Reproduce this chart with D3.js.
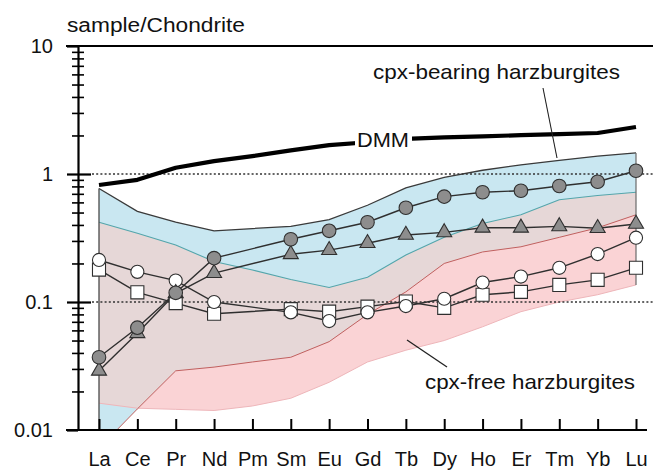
<!DOCTYPE html>
<html>
<head>
<meta charset="utf-8">
<script src="https://cdn.jsdelivr.net/npm/d3@7"></script>
<style>
  html, body { margin: 0; padding: 0; background: #fff; }
  svg { display: block; font-family: "Liberation Sans", Arial, sans-serif; }
</style>
</head>
<body>
<svg id="chart" width="653" height="470"></svg>
<script>
// REE patterns, chondrite normalized
const elements = ["La", "Ce", "Pr", "Nd", "Pm", "Sm", "Eu", "Gd", "Tb", "Dy", "Ho", "Er", "Tm", "Yb", "Lu"]
const yTickValues = [0.01, 0.1, 1, 10]
const yTickLabels = ["0.01", "0.1", "1", "10"]

const dmm = [0.82, 0.9, 1.12, 1.26, 1.38, 1.53, 1.68, 1.77, 1.88, 1.93, 1.97, 2.01, 2.05, 2.09, 2.33]

// field of cpx-bearing harzburgites (blue)
const cpxBearingMax = [0.77, 0.51, 0.42, 0.36, 0.375, 0.39, 0.44, 0.57, 0.78, 0.94, 1.07, 1.18, 1.28, 1.38, 1.46]
const cpxBearingMin = [0.0072, 0.0146, 0.029, 0.031, 0.034, 0.037, 0.049, 0.08, 0.12, 0.2, 0.246, 0.27, 0.32, 0.38, 0.48]

// field of cpx-free harzburgites (pink)
const cpxFreeMax = [0.42, 0.344, 0.279, 0.207, 0.178, 0.15, 0.13, 0.156, 0.233, 0.32, 0.41, 0.48, 0.63, 0.68, 0.72]
const cpxFreeMin = [0.0162, 0.0148, 0.0145, 0.0142, 0.0154, 0.0177, 0.0236, 0.034, 0.042, 0.05, 0.064, 0.084, 0.1, 0.114, 0.136]

// samples (no Pm)
const whiteSquares = [0.179, 0.119, 0.098, 0.081, null, 0.088, 0.084, 0.092, 0.101, 0.09, 0.114, 0.12, 0.136, 0.149, 0.185]
const whiteCircles = [0.213, 0.172, 0.147, 0.1, null, 0.083, 0.071, 0.083, 0.093, 0.106, 0.142, 0.158, 0.185, 0.237, 0.318]
const grayTriangles = [0.029, 0.057, 0.117, 0.168, null, 0.236, 0.254, 0.288, 0.334, 0.35, 0.38, 0.38, 0.39, 0.377, 0.407]
const grayCircles = [0.037, 0.063, 0.118, 0.22, null, 0.309, 0.36, 0.42, 0.545, 0.665, 0.72, 0.74, 0.806, 0.87, 1.06]

const svg = d3.select("#chart")
const x = d3.scalePoint().domain(elements).range([99, 636])
const y = d3.scaleLog().domain([0.01, 10]).range([430, 46])
const idx = d3.range(elements.length)

const area = (lo, hi) => d3.area()
  .x((i) => x(elements[i]))
  .y0((i) => y(lo[i]))
  .y1((i) => y(hi[i]))(idx)
const edge = (vals) => d3.line()
  .x((i) => x(elements[i]))
  .y((i) => y(vals[i]))(idx)

const defs = svg.append("defs")
defs.append("clipPath").attr("id", "plot-clip")
  .append("rect").attr("x", 78).attr("y", 46).attr("width", 575).attr("height", 384)
defs.append("clipPath").attr("id", "blue-clip")
  .append("path").attr("d", area(cpxBearingMin, cpxBearingMax))

const plot = svg.append("g").attr("clip-path", "url(#plot-clip)")

// fields: blue, pink, and their overlap
plot.append("path").attr("d", area(cpxBearingMin, cpxBearingMax)).attr("fill", "#c9e7f1")
plot.append("path").attr("d", area(cpxFreeMin, cpxFreeMax)).attr("fill", "#fad3d5")
plot.append("g").attr("clip-path", "url(#blue-clip)")
  .append("path").attr("d", area(cpxFreeMin, cpxFreeMax)).attr("fill", "#e6d7d7")

plot.append("path").attr("d", edge(cpxFreeMin)).attr("fill", "none").attr("stroke", "#eeb6ba").attr("stroke-width", 1)
plot.append("path").attr("d", edge(cpxBearingMin)).attr("fill", "none").attr("stroke", "#c0605f").attr("stroke-width", 1)
plot.append("path").attr("d", edge(cpxFreeMax)).attr("fill", "none").attr("stroke", "#52a6ac").attr("stroke-width", 1.1)
plot.append("path").attr("d", edge(cpxBearingMax)).attr("fill", "none").attr("stroke", "#3a3a3a").attr("stroke-width", 1.3)

// vertical ends of the fields
const first = 0, last = elements.length - 1
plot.append("line")
  .attr("x1", x(elements[first])).attr("x2", x(elements[first]))
  .attr("y1", y(cpxBearingMax[first])).attr("y2", y(0.01))
  .attr("stroke", "#4a4a4a").attr("stroke-width", 1.3)
plot.append("line")
  .attr("x1", x(elements[last])).attr("x2", x(elements[last]))
  .attr("y1", y(cpxBearingMax[last])).attr("y2", y(cpxFreeMin[last]))
  .attr("stroke", "#6a6a6a").attr("stroke-width", 1.2)

// dotted reference lines at 1 and 0.1
plot.selectAll("line.ref")
  .data([1, 0.1])
  .enter()
  .append("line")
  .attr("class", "ref")
  .attr("x1", 92).attr("x2", 653)
  .attr("y1", (d) => y(d)).attr("y2", (d) => y(d))
  .attr("stroke", "#333").attr("stroke-width", 1.4).attr("stroke-dasharray", "2,2.2")

// DMM
plot.append("path").attr("d", edge(dmm)).attr("fill", "none")
  .attr("stroke", "#000").attr("stroke-width", 4.2).attr("stroke-linejoin", "round")
svg.append("rect").attr("x", 355).attr("y", 126).attr("width", 57).attr("height", 24).attr("fill", "#fff")
svg.append("text").attr("x", 357).attr("y", 147).attr("font-size", 21)
  .attr("textLength", 52).attr("lengthAdjust", "spacingAndGlyphs").attr("fill", "#111").text("DMM")

// sample lines and symbols
const series = [
  { vals: whiteSquares, shape: d3.symbolSquare, size: 170, fill: "#fff" },
  { vals: whiteCircles, shape: d3.symbolCircle, size: 135, fill: "#fff" },
  { vals: grayTriangles, shape: d3.symbolTriangle, size: 98, fill: "#8d8d8d" },
  { vals: grayCircles, shape: d3.symbolCircle, size: 145, fill: "#8d8d8d" },
]

series.forEach((s) => {
  const pts = idx.filter((i) => s.vals[i] != null)
  svg.append("path")
    .attr("d", d3.line().x((i) => x(elements[i])).y((i) => y(s.vals[i]))(pts))
    .attr("fill", "none").attr("stroke", "#2f2f2f").attr("stroke-width", 1.4)
})
series.forEach((s) => {
  const pts = idx.filter((i) => s.vals[i] != null)
  svg.append("g").selectAll("path")
    .data(pts)
    .enter()
    .append("path")
    .attr("transform", (i) => `translate(${x(elements[i])},${y(s.vals[i])})`)
    .attr("d", d3.symbol(s.shape, s.size))
    .attr("fill", s.fill).attr("stroke", "#2f2f2f").attr("stroke-width", 1.1)
})

// axes
const axisFont = (g) => g.selectAll("text").attr("font-size", 20).attr("fill", "#111")
  .attr("font-family", "'Liberation Sans', Arial, sans-serif")

const minors = []
;[0.01, 0.1, 1].forEach((d) => d3.range(2, 10).forEach((k) => minors.push(d * k)))

svg.append("g").attr("transform", "translate(78,0)")
  .call(d3.axisLeft(y).tickValues(yTickValues).tickSize(11).tickSizeOuter(0).tickPadding(14)
    .tickFormat((d, i) => yTickLabels[i]))
  .call(axisFont)
  .call((g) => g.select(".domain").attr("stroke-width", 2.2))
  .call((g) => g.selectAll(".tick line").attr("stroke-width", 2.2))
svg.append("g").attr("transform", "translate(78,0)")
  .call(d3.axisRight(y).tickValues([0.1, 1]).tickSize(13).tickFormat(""))
  .call((g) => g.select(".domain").remove())
  .call((g) => g.selectAll(".tick line").attr("stroke-width", 2.2))
svg.append("g").attr("transform", "translate(78,0)")
  .call(d3.axisLeft(y).tickValues(minors).tickSize(6).tickFormat(""))
  .call((g) => g.select(".domain").remove())
  .call((g) => g.selectAll(".tick line").attr("stroke-width", 1.6))
svg.append("g").attr("transform", "translate(78,0)")
  .call(d3.axisRight(y).tickValues(minors).tickSize(6).tickFormat(""))
  .call((g) => g.select(".domain").remove())
  .call((g) => g.selectAll(".tick line").attr("stroke-width", 1.6))

svg.append("g").attr("transform", `translate(0,${y(0.01)})`)
  .call(d3.axisBottom(x).tickSize(-11).tickSizeOuter(0))
  .call((g) => g.select(".domain").remove())
  .call((g) => g.selectAll(".tick line").attr("stroke-width", 2))
  .call(axisFont)
  .call((g) => g.selectAll("text").attr("y", 36).attr("dy", null))

// top and bottom frame lines
svg.append("line").attr("x1", 66).attr("x2", 653).attr("y1", y(10)).attr("y2", y(10))
  .attr("stroke", "#000").attr("stroke-width", 2)
svg.append("line").attr("x1", 66).attr("x2", 647).attr("y1", y(0.01)).attr("y2", y(0.01))
  .attr("stroke", "#000").attr("stroke-width", 2.2)

// labels
svg.append("text").attr("x", 67).attr("y", 32).attr("font-size", 20)
  .attr("textLength", 178).attr("lengthAdjust", "spacingAndGlyphs").attr("fill", "#111")
  .text("sample/Chondrite")

svg.append("text").attr("x", 373).attr("y", 79).attr("font-size", 21)
  .attr("textLength", 247).attr("lengthAdjust", "spacingAndGlyphs").attr("fill", "#111")
  .text("cpx-bearing harzburgites")
svg.append("line").attr("x1", 543).attr("y1", 88).attr("x2", 557).attr("y2", 158)
  .attr("stroke", "#222").attr("stroke-width", 1.1)

svg.append("text").attr("x", 425).attr("y", 389).attr("font-size", 21)
  .attr("textLength", 210).attr("lengthAdjust", "spacingAndGlyphs").attr("fill", "#111")
  .text("cpx-free harzburgites")
svg.append("line").attr("x1", 407).attr("y1", 340).attr("x2", 447).attr("y2", 367)
  .attr("stroke", "#222").attr("stroke-width", 1.3)
</script>
</body>
</html>
